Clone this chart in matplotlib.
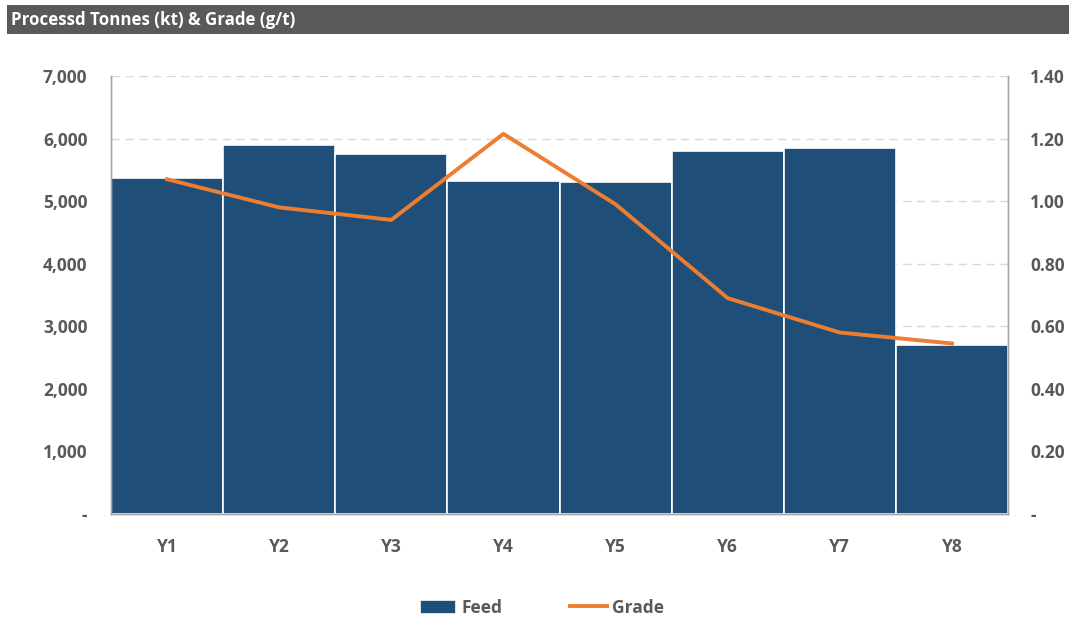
import numpy as np
import matplotlib.pyplot as plt
from matplotlib.ticker import FuncFormatter, MultipleLocator
from matplotlib.patches import Rectangle

years = ["Y1", "Y2", "Y3", "Y4", "Y5", "Y6", "Y7", "Y8"]
feed_kt = [5370, 5900, 5750, 5320, 5310, 5800, 5850, 2700]
grade_gt = [1.07, 0.98, 0.94, 1.215, 0.99, 0.69, 0.58, 0.545]

plt.rcParams["font.family"] = ["Open Sans", "DejaVu Sans"]
text_grey = "#595959"
blue = "#1F4E79"
orange = "#ED7D31"

fig = plt.figure(figsize=(10.69, 6.17), dpi=100)
ax = fig.add_axes([111 / 1069, 1 - 514 / 617, (1008 - 111) / 1069, (514 - 76) / 617])

x = np.arange(len(years))
bars = ax.bar(x, feed_kt, width=1.0, color=blue, edgecolor="white", linewidth=1.2,
              label="Feed", zorder=2)
ax.set_xlim(-0.5, len(years) - 0.5)
ax.set_ylim(0, 7000)
ax.yaxis.set_major_locator(MultipleLocator(1000))
ax.yaxis.set_major_formatter(FuncFormatter(lambda v, _: "-" if v == 0 else f"{v:,.0f}"))
ax.grid(axis="y", color="#d9d9d9", linestyle=(0, (6, 4)), linewidth=1, zorder=0)
ax.set_axisbelow(True)
ax.set_xticks(x, years)

ax2 = ax.twinx()
line, = ax2.plot(x, grade_gt, color=orange, linewidth=2.8, label="Grade", zorder=3)
ax2.set_ylim(0, 1.4)
ax2.yaxis.set_major_locator(MultipleLocator(0.2))
ax2.yaxis.set_major_formatter(FuncFormatter(lambda v, _: "-" if abs(v) < 1e-9 else f"{v:.2f}"))

for a in (ax, ax2):
    a.spines["top"].set_visible(False)
    for s in ("left", "right", "bottom"):
        a.spines[s].set_color("#a6a6a6")
        a.spines[s].set_linewidth(1)
    a.tick_params(length=0, labelsize=12.5, labelcolor=text_grey)
    for lbl in a.get_yticklabels() + a.get_xticklabels():
        lbl.set_fontweight("bold")
ax.tick_params(axis="y", pad=17)
ax2.tick_params(axis="y", pad=16)
ax.tick_params(axis="x", pad=17)

# title banner
fig.patches.append(Rectangle((7 / 1069, 1 - 34 / 617), 1 - 7 / 1069, 29 / 617,
                             transform=fig.transFigure, facecolor="#595959",
                             edgecolor="none", zorder=0))
fig.text(11 / 1069, 1 - 20 / 617, "Processd Tonnes (kt) & Grade (g/t)", color="white",
         fontsize=12.2, fontweight="bold", va="center", ha="left")

leg = fig.legend([bars, line], ["Feed", "Grade"], loc="center", ncol=2,
                 bbox_to_anchor=(0.507, 1 - 608 / 617), frameon=False,
                 handlelength=2.1, handleheight=0.9, handletextpad=0.3,
                 columnspacing=3.9, prop={"size": 12.5, "weight": "bold"})
for t in leg.get_texts():
    t.set_color(text_grey)

fig.savefig("out.png", dpi=100)
